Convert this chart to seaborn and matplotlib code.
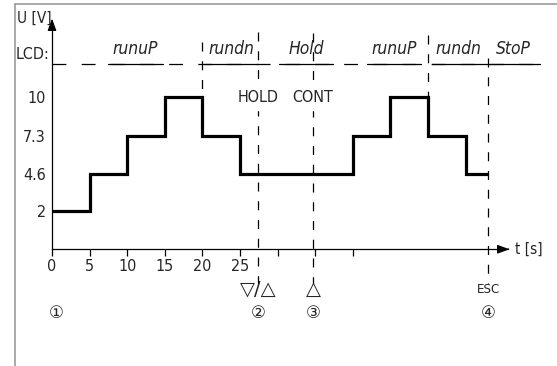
"""Step-ramp timing diagram (runuP / rundn / Hold / StoP) redrawn with seaborn."""

import numpy as np
import pandas as pd
import matplotlib
matplotlib.use("Agg")
import matplotlib.pyplot as plt
from matplotlib import font_manager
from matplotlib.lines import Line2D
import seaborn as sns

# --- data -----------------------------------------------------------------
step_t = [0, 5, 10, 15, 20, 25, 40, 45, 50, 55, 58]
step_u = [2, 4.6, 7.3, 10, 7.3, 4.6, 7.3, 10, 7.3, 4.6, 4.6]

x_ticks = [0, 5, 10, 15, 20, 25, 30, 35, 40]
x_tick_labels = ["0", "5", "10", "15", "20", "25", "", "", ""]
y_ticks = [2, 4.6, 7.3, 10]
y_tick_labels = ["2", "4.6", "7.3", "10"]

lcd_texts = ["runuP", "rundn", "Hold", "runuP", "rundn", "StoP"]
lcd_pos = [11.1, 23.8, 33.8, 45.5, 54.1, 61.3]

key_times = [27.4, 34.7, 58]
key_labels = ["\u25BD/\u25B3", "\u25B3", "ESC"]
step_numbers = ["\u2460", "\u2461", "\u2462", "\u2463"]
step_number_t = [0.6, 27.4, 34.7, 58]


def pick_narrow_font():
    # condensed face if one is installed, else the narrowest regular one
    for fam, stretch in [("Liberation Sans Narrow", "normal"),
                         ("DejaVu Sans", "condensed")]:
        try:
            path = font_manager.findfont(
                font_manager.FontProperties(family=fam, stretch=stretch),
                fallback_to_default=False)
        except Exception:
            continue
        if "Narrow" in path or "Condensed" in path:
            return fam, stretch, True
    return "Liberation Sans", "normal", False


narrow_family, narrow_stretch, is_narrow = pick_narrow_font()
lab_size = 11.5 if is_narrow else 10.5

# --- style ----------------------------------------------------------------
sns.set_theme(style="white")
plt.rcParams["font.family"] = [narrow_family, "DejaVu Sans"]
plt.rcParams["font.stretch"] = narrow_stretch
plt.rcParams["lines.scale_dashes"] = False

fig = plt.figure(figsize=(5.57, 3.66), dpi=100)
ax = fig.add_axes([0, 0, 1, 1])
ax.set_facecolor("none")

y_base = -0.72
lcd_y = 12.35
ax.set_xlim(-6.915, 67.15)
ax.set_ylim(-8.956, 16.864)

df = pd.DataFrame({"t": step_t, "u": step_u})
sns.lineplot(data=df, x="t", y="u", drawstyle="steps-post", color="black",
             linewidth=2.3, ax=ax, solid_joinstyle="miter", solid_capstyle="butt")

# axes lines
for side in ["top", "right"]:
    ax.spines[side].set_visible(False)
ax.spines["left"].set_position(("data", 0))
ax.spines["bottom"].set_position(("data", y_base))
ax.spines["left"].set_bounds(y_base, 15.0)
ax.spines["bottom"].set_bounds(0, 60.5)
for side in ["left", "bottom"]:
    ax.spines[side].set_color("black")
    ax.spines[side].set_linewidth(0.9)

ax.annotate("", xy=(0, 15.75), xytext=(0, 14.9),
            arrowprops=dict(arrowstyle="-|>,head_length=0.6,head_width=0.22",
                            color="black", lw=0.9))
ax.annotate("", xy=(61.2, y_base), xytext=(60.3, y_base),
            arrowprops=dict(arrowstyle="-|>,head_length=0.6,head_width=0.22",
                            color="black", lw=0.9))

ax.set_xticks(x_ticks)
ax.set_xticklabels(x_tick_labels)
ax.set_yticks(y_ticks)
ax.set_yticklabels(y_tick_labels)
ax.tick_params(axis="x", direction="out", length=5, width=0.9, color="black",
               labelsize=lab_size, pad=2, bottom=True)
ax.tick_params(axis="y", length=0, labelsize=lab_size, pad=4.5, left=True)
ax.set_xlabel("")
ax.set_ylabel("")

ax.text(-4.6, 15.6, "U [V]", ha="left", va="center", fontsize=lab_size - 0.5)
ax.text(-0.3, 13.0, "LCD:", ha="right", va="center", fontsize=lab_size)
ax.text(61.5, y_base, "t [s]", ha="left", va="center", fontsize=lab_size - 0.5)

# LCD status line
ax.plot([0, 65], [lcd_y, lcd_y], color="black", lw=0.9,
        linestyle=(0, (10, 11)))
for name, t in zip(lcd_texts, lcd_pos):
    ax.text(t, 12.75, name, ha="center", va="bottom", fontsize=12.5,
            style="italic", family=["DejaVu Sans"], stretch="condensed",
            fontweight="light")
    ax.plot([t - 3.6, t + 3.6], [lcd_y, lcd_y], color="black", lw=0.9)

# dashed event markers
dash = (0, (6.5, 7))
ax.plot([20, 20], [13.9, 10], color="black", lw=0.9, linestyle=dash)
ax.plot([50, 50], [14.4, 10], color="black", lw=0.9, linestyle=dash)
for t, top in zip(key_times, [14.6, 14.55, 12.8]):
    ax.plot([t, t], [top, -3.2], color="black", lw=0.9, linestyle=dash)

ax.text(27.4, 10, "HOLD", ha="center", va="center", fontsize=lab_size,
        backgroundcolor="white")
ax.text(34.7, 10, "CONT", ha="center", va="center", fontsize=lab_size,
        backgroundcolor="white")

for lab, t in zip(key_labels, key_times):
    if lab == "ESC":
        ax.text(t, -3.55, lab, ha="center", va="center", fontsize=9.5)
    else:
        ax.text(t, -3.55, lab, ha="center", va="center", fontsize=14,
                family=["DejaVu Sans"], stretch="normal")
for lab, t in zip(step_numbers, step_number_t):
    ax.text(t, -5.25, lab, ha="center", va="center", fontsize=12,
            family=["DejaVu Sans"], stretch="normal")

# light grey frame top/left
fig.add_artist(Line2D([14.5 / 557, 14.5 / 557], [0, 1 - 4 / 366],
                      color="#9a9a9a", lw=1.2, transform=fig.transFigure))
fig.add_artist(Line2D([14.5 / 557, 1], [1 - 4 / 366, 1 - 4 / 366],
                      color="#9a9a9a", lw=1.2, transform=fig.transFigure))

fig.savefig("out.png", dpi=100)
